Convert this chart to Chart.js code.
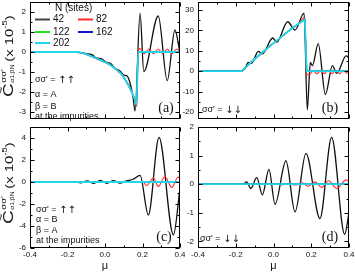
<!DOCTYPE html>
<html><head><meta charset="utf-8">
<script src="https://cdn.jsdelivr.net/npm/chart.js@4.4.1/dist/chart.umd.min.js"></script>
<style>
html,body{margin:0;padding:0;background:#fff;}
#wrap{position:relative;width:355px;height:273px;overflow:hidden;background:#fff;}
canvas{position:absolute;left:0;top:0;}
</style></head><body>
<div id="wrap">
<canvas id="ca" width="355" height="273"></canvas>
<canvas id="cb" width="355" height="273"></canvas>
<canvas id="cc" width="355" height="273"></canvas>
<canvas id="cd" width="355" height="273"></canvas>
</div>
<script>
// ---------- categories / legend ----------
const seriesNames = ['42', '82', '122', '162', '202'];
const seriesColors = ['#111111', '#ff2a2a', '#22dd22', '#1414cc', '#22d6ea'];

// ---------- tick labels ----------
const xTicks = [-0.4, -0.2, 0.0, 0.2, 0.4];
const xMinor = [-0.3, -0.1, 0.1, 0.3];
const yTicksA = [-3, -2, -1, 0, 1, 2];
const yMinorA = [-2.5, -1.5, -0.5, 0.5, 1.5];
const yTicksB = [-20, -10, 0, 10, 20, 30];
const yMinorB = [-15, -5, 5, 15, 25];
const yTicksC = [-6, -4, -2, 0, 2, 4];
const yMinorC = [-5, -3, -1, 1, 3];
const yTicksD = [-2, -1, 0, 1, 2];
const yMinorD = [-1.5, -0.5, 0.5, 1.5];

// ---------- panel (a) ----------
const muA42 = [-0.4, -0.15, -0.1, -0.07, -0.045, -0.02, 0.005, 0.03, 0.055, 0.08, 0.1, 0.118, 0.135, 0.15, 0.16, 0.187, 0.207, 0.284, 0.332, 0.373, 0.4];
const valA42 = [0, -0.02, -0.08, -0.13, -0.3, -0.33, -0.5, -0.58, -0.82, -0.95, -1.15, -1.2, -1.6, -2.3, -2.95, 1.93, -0.98, 1.8, -1.43, 1.1, -0.05];
const muA82 = [-0.4, -0.15, -0.09, -0.03, 0.03, 0.09, 0.12, 0.14, 0.155, 0.17, 0.176, 0.186, 0.21, 0.234, 0.258, 0.284, 0.308, 0.332, 0.357, 0.382, 0.4];
const valA82 = [0, 0, -0.16, -0.4, -0.66, -1.15, -1.55, -1.93, -2.3, -2.72, 0, 0.17, -0.08, 0.15, -0.08, 0.15, -0.08, 0.15, -0.08, 0.15, 0];
const muA122 = [-0.4, -0.15, -0.12, -0.09, -0.06, -0.03, 0.0, 0.03, 0.06, 0.09, 0.12, 0.14, 0.155, 0.168, 0.177, 0.4];
const valA122 = [0, 0, -0.05, -0.15, -0.26, -0.38, -0.5, -0.66, -0.87, -1.13, -1.58, -1.95, -2.28, -2.62, 0, 0];
const muA162 = [-0.4, -0.15, -0.12, -0.09, -0.06, -0.03, 0.0, 0.03, 0.06, 0.09, 0.12, 0.14, 0.155, 0.168, 0.177, 0.4];
const valA162 = [0, 0, -0.05, -0.15, -0.26, -0.38, -0.5, -0.66, -0.87, -1.13, -1.58, -1.95, -2.28, -2.62, 0, 0];
const muA202 = [-0.4, -0.15, -0.12, -0.09, -0.06, -0.03, 0.0, 0.03, 0.06, 0.09, 0.12, 0.14, 0.155, 0.168, 0.177, 0.4];
const valA202 = [0, 0, -0.05, -0.15, -0.26, -0.38, -0.5, -0.66, -0.87, -1.13, -1.58, -1.95, -2.28, -2.62, 0, 0];

// ---------- panel (b) ----------
const muB42 = [-0.4, -0.17, -0.15, -0.134, -0.118, -0.08, -0.059, -0.004, 0.017, 0.075, 0.114, 0.162, 0.179, 0.195, 0.206, 0.237, 0.275, 0.312, 0.335, 0.385, 0.4];
const valB42 = [0, 0, 1.5, 4.3, 3.8, 9.7, 8.5, 16.3, 14.3, 24.3, 20.2, 28.5, -19, 4.3, 2.7, 13.5, -11.5, 2.7, -1, 7.5, 6.5];
const muB82 = [-0.4, -0.168, -0.12, -0.07, -0.02, 0.03, 0.08, 0.13, 0.163, 0.176, 0.19, 0.21, 0.23, 0.25, 0.27, 0.29, 0.31, 0.33, 0.35, 0.37, 0.39, 0.4];
const valB82 = [0, 0, 4.6, 8.0, 12.5, 15.8, 19.9, 23.0, 26.2, -1.5, -1.8, 0.3, -1.3, 0.4, -1.2, 0.4, -1.2, 0.4, -1.2, 0.4, -1.0, 0];
const muB122 = [-0.4, -0.168, -0.1, 0.0, 0.1, 0.166, 0.176, 0.4];
const valB122 = [0, 0, 6, 13.8, 21.2, 25.4, 0, 0];
const muB162 = [-0.4, -0.168, -0.1, 0.0, 0.1, 0.166, 0.176, 0.4];
const valB162 = [0, 0, 6, 13.8, 21.2, 25.4, 0, 0];
const muB202 = [-0.4, -0.168, -0.1, 0.0, 0.1, 0.166, 0.176, 0.4];
const valB202 = [0, 0, 6, 13.8, 21.2, 25.4, 0, 0];

// ---------- panel (c) ----------
const muC42 = [-0.4, -0.16, -0.13, -0.095, -0.06, -0.025, 0.01, 0.045, 0.08, 0.115, 0.15, 0.187, 0.231, 0.288, 0.365, 0.4];
const valC42 = [0, 0, -0.08, 0.1, -0.12, 0.15, -0.12, 0.12, -0.1, 0.1, 0.25, 0.6, -3.0, 4.05, -4.8, -0.55];
const muC82 = [-0.4, 0.17, 0.2, 0.222, 0.258, 0.284, 0.32, 0.356, 0.39, 0.4];
const valC82 = [0, 0, 0.05, -0.32, 0.36, -0.4, 0.5, -0.5, 0.45, 0.35];
const muC122 = [-0.4, 0.4];
const valC122 = [0, 0];
const muC162 = [-0.4, 0.4];
const valC162 = [0, 0];
const muC202 = [-0.4, 0.4];
const valC202 = [0, 0];

// ---------- panel (d) ----------
const muD42 = [-0.4, -0.16, -0.142, -0.12, -0.089, -0.059, -0.024, 0.008, 0.066, 0.114, 0.172, 0.246, 0.308, 0.377, 0.4];
const valD42 = [0, 0, 0.08, -0.15, 0.23, -0.37, 0.52, -0.7, 0.82, -0.97, 1.08, -1.2, 1.64, -1.75, -1.0];
const muD82 = [-0.4, 0.02, 0.045, 0.08, 0.115, 0.15, 0.184, 0.22, 0.255, 0.292, 0.335, 0.385, 0.4];
const valD82 = [0, 0, -0.02, 0.02, -0.03, 0.05, -0.07, 0.08, -0.11, 0.12, -0.15, 0.15, 0.1];
const muD122 = [-0.4, 0.4];
const valD122 = [0, 0];
const muD162 = [-0.4, 0.4];
const valD162 = [0, 0];
const muD202 = [-0.4, 0.4];
const valD202 = [0, 0];

const SANS = "'Liberation Sans', Arial, sans-serif";
const SERIF = "'Liberation Serif', 'Times New Roman', serif";
const ARROWF = "'DejaVu Sans', sans-serif";

function pts(mu, val) { return mu.map((m, i) => ({ x: m, y: val[i] })); }

function datasets(p) {
  const list = [
    { mu: p[4][0], v: p[4][1], c: seriesColors[4], w: 1.8, lin: p.cyanLinear },
    { mu: p[3][0], v: p[3][1], c: seriesColors[3], w: 1.2, lin: p.cyanLinear },
    { mu: p[2][0], v: p[2][1], c: seriesColors[2], w: 1.2, lin: p.cyanLinear },
    { mu: p[1][0], v: p[1][1], c: seriesColors[1], w: 1.1 },
    { mu: p[0][0], v: p[0][1], c: seriesColors[0], w: 1.3 }
  ];
  return list.map((d, i) => ({
    label: seriesNames[4 - i],
    data: pts(d.mu, d.v),
    borderColor: d.c,
    borderWidth: d.w,
    pointRadius: 0,
    fill: false,
    tension: d.lin ? 0 : 0.4,
    cubicInterpolationMode: d.lin ? 'default' : 'monotone'
  }));
}

function drawYTitle(ctx, bx, by) {
  ctx.save();
  ctx.translate(bx, by);
  ctx.rotate(-Math.PI / 2);
  ctx.scale(1.35, 1);
  ctx.fillStyle = '#111';
  ctx.textAlign = 'left';
  ctx.textBaseline = 'alphabetic';
  let x = 0;
  ctx.font = '14px ' + SANS;
  ctx.fillText('C', x, 0);
  const wC = ctx.measureText('C').width;
  ctx.font = '9px ' + SANS;
  const wt = ctx.measureText('~').width;
  ctx.fillText('~', x + wC / 2 - wt / 2, -9);
  x += wC + 0.5;
  ctx.font = '5px ' + SANS;
  ctx.fillText('\u03b11;\u03b2N', x, 1);
  const wsub = ctx.measureText('\u03b11;\u03b2N').width;
  ctx.font = '7px ' + SANS;
  ctx.fillText("\u03c3\u03c3'", x, -7);
  const wsup = ctx.measureText("\u03c3\u03c3'").width;
  x += Math.max(wsub, wsup) + 2;
  ctx.font = '11px ' + SANS;
  ctx.fillText('(x 10', x, 0);
  x += ctx.measureText('(x 10').width;
  ctx.font = '7px ' + SANS;
  ctx.fillText('-5', x, -6);
  x += ctx.measureText('-5').width;
  ctx.font = '11px ' + SANS;
  ctx.fillText(')', x, 0);
  ctx.restore();
}

function decoPlugin(cfg) {
  return {
    id: 'deco',
    afterDraw(chart) {
      const ctx = chart.ctx, a = chart.chartArea;
      const xs = chart.scales.x, ys = chart.scales.y;
      const L = Math.round(a.left) + 0.5, R = Math.round(a.right) - 0.5;
      const T = Math.round(a.top) + 0.5, B = Math.round(a.bottom) - 0.5;
      ctx.save();
      ctx.strokeStyle = '#000';
      ctx.lineWidth = 1;
      ctx.beginPath();
      const xt = (vals, len) => vals.forEach(v => {
        const p = Math.round(xs.getPixelForValue(v)) + 0.5;
        ctx.moveTo(p, B); ctx.lineTo(p, B - len);
        ctx.moveTo(p, T); ctx.lineTo(p, T + len);
      });
      const yt = (vals, len) => vals.forEach(v => {
        const p = Math.round(ys.getPixelForValue(v)) + 0.5;
        ctx.moveTo(L, p); ctx.lineTo(L + len, p);
        ctx.moveTo(R, p); ctx.lineTo(R - len, p);
      });
      xt(xTicks, 4); xt(xMinor, 2);
      yt(cfg.yMajor, 4); yt(cfg.yMinor, 2);
      ctx.stroke();
      ctx.strokeRect(L, T, R - L, B - T);

      ctx.fillStyle = '#111';
      ctx.textAlign = 'left';
      ctx.textBaseline = 'middle';
      cfg.notes.forEach(n => {
        ctx.font = '9px ' + SANS;
        ctx.fillText(n[0], n[1], n[2]);
        if (n[3]) {
          const w = ctx.measureText(n[0]).width;
          ctx.font = '10px ' + ARROWF;
          ctx.fillText(n[3], n[1] + w, n[2]);
        }
      });
      ctx.font = '14px ' + SERIF;
      ctx.textAlign = 'center';
      ctx.fillText(cfg.tag[0], cfg.tag[1], cfg.tag[2]);
      if (cfg.mu) {
        ctx.font = '11px ' + SANS;
        ctx.fillText('\u03bc', cfg.mu[0], cfg.mu[1]);
      }
      if (cfg.legend) {
        ctx.textAlign = 'left';
        ctx.font = '10px ' + SANS;
        ctx.fillText('N (sites)', 55, 8.5);
        const rows = [[0, 35, 19.5], [1, 78, 19.5], [2, 35, 32], [3, 78, 32], [4, 35, 43]];
        rows.forEach(r => {
          ctx.strokeStyle = r[0] === 0 ? '#444' : seriesColors[r[0]];
          ctx.lineWidth = 2;
          ctx.beginPath();
          ctx.moveTo(r[1], r[2]); ctx.lineTo(r[1] + 15, r[2]);
          ctx.stroke();
          ctx.fillText(seriesNames[r[0]], r[1] + 18, r[2]);
        });
      }
      if (cfg.ytitle) drawYTitle(ctx, cfg.ytitle[0], cfg.ytitle[1]);
      ctx.restore();
    }
  };
}

function makeChart(id, p, yr, yMajor, yMinor, pad, showX, cfg) {
  cfg.yMajor = yMajor; cfg.yMinor = yMinor;
  return new Chart(document.getElementById(id), {
    type: 'line',
    data: { datasets: datasets(p) },
    options: {
      responsive: false,
      animation: false,
      events: [],
      layout: { padding: pad },
      plugins: { legend: { display: false }, tooltip: { enabled: false } },
      scales: {
        x: {
          type: 'linear', min: -0.4, max: 0.4,
          grid: { display: false, drawTicks: false, tickLength: 0 },
          border: { display: false },
          afterBuildTicks: s => { s.ticks = xTicks.map(v => ({ value: v })); },
          afterFit: s => { s.height = showX ? 20 : 0; s.paddingLeft = 0; s.paddingRight = 0; s.paddingTop = 0; s.paddingBottom = 0; },
          ticks: {
            display: showX, padding: 2, color: '#111', maxRotation: 0, autoSkip: false,
            font: { family: SANS, size: 8 },
            callback: v => Number(v).toFixed(1)
          }
        },
        y: {
          type: 'linear', min: yr[0], max: yr[1],
          grid: { display: false, drawTicks: false, tickLength: 0 },
          border: { display: false },
          afterBuildTicks: s => { s.ticks = yMajor.map(v => ({ value: v })); },
          afterFit: s => { s.width = 30; s.paddingTop = 0; s.paddingBottom = 0; s.paddingLeft = 0; s.paddingRight = 0; },
          ticks: {
            padding: 4, color: '#111', autoSkip: false,
            font: { family: SANS, size: 8 },
            callback: v => String(v)
          }
        }
      }
    },
    plugins: [decoPlugin(cfg)]
  });
}

const sigmaTxt = "\u03c3\u03c3' = ";
const upArrows = "\u2191\u2191";
const downArrows = "\u2193\u2193";

makeChart('ca',
  [[muA42, valA42], [muA82, valA82], [muA122, valA122], [muA162, valA162], [muA202, valA202]],
  [-3.35, 2.5], yTicksA, yMinorA, { left: 0, top: 2, right: 175, bottom: 154 }, false,
  { notes: [[sigmaTxt, 35, 80, upArrows], ['\u03b1 = A', 35, 95], ['\u03b2 = B', 35, 107], ['at the impurities', 35, 117]],
    tag: ['(a)', 166, 108], legend: true, ytitle: [12.5, 97] });

const pb = [[muB42, valB42], [muB82, valB82], [muB122, valB122], [muB162, valB162], [muB202, valB202]];
pb.cyanLinear = true;
makeChart('cb', pb,
  [-23.5, 34], yTicksB, yMinorB, { left: 168, top: 2, right: 6, bottom: 154 }, false,
  { notes: [[sigmaTxt, 202, 110, downArrows]], tag: ['(b)', 330, 108] });

makeChart('cc',
  [[muC42, valC42], [muC82, valC82], [muC122, valC122], [muC162, valC162], [muC202, valC202]],
  [-6, 5], yTicksC, yMinorC, { left: 0, top: 127, right: 175, bottom: 5 }, true,
  { notes: [[sigmaTxt, 36, 210, upArrows], ['\u03b1 = B', 36, 220], ['\u03b2 = A', 36, 230.5], ['at the impurities', 36, 241]],
    tag: ['(c)', 164, 237], mu: [105, 266], ytitle: [12.5, 224] });

makeChart('cd',
  [[muD42, valD42], [muD82, valD82], [muD122, valD122], [muD162, valD162], [muD202, valD202]],
  [-2.23, 2.0], yTicksD, yMinorD, { left: 168, top: 127, right: 6, bottom: 5 }, true,
  { notes: [[sigmaTxt, 200, 239, downArrows]], tag: ['(d)', 330, 237], mu: [273.5, 266] });
</script>
</body></html>
